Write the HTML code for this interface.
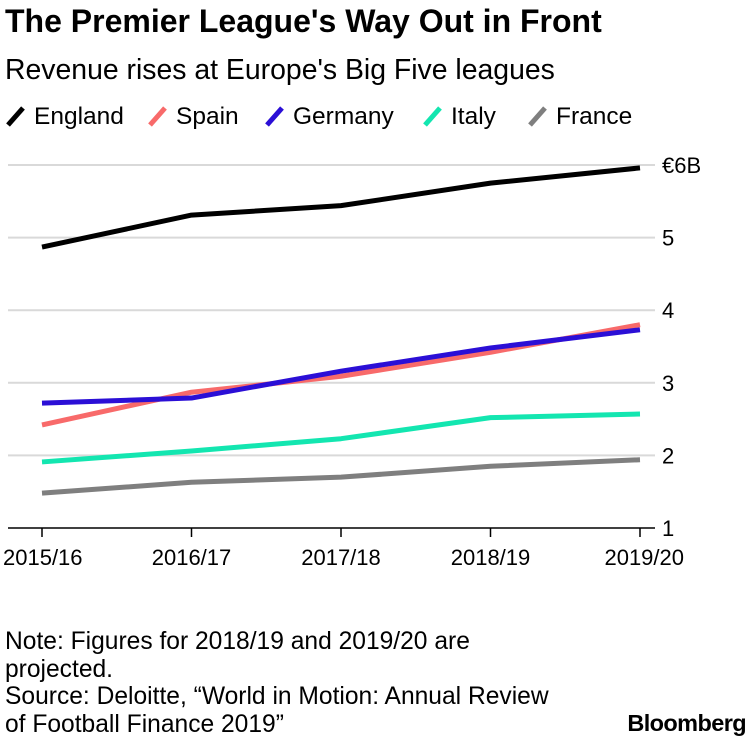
<!DOCTYPE html>
<html><head><meta charset="utf-8"><style>
body{margin:0;background:#fff;font-family:"Liberation Sans",sans-serif;}
#wrap{position:relative;width:750px;height:740px;overflow:hidden;}
.t{position:absolute;left:5px;color:#000;white-space:nowrap;}
</style></head><body>
<div id="wrap">
<div class="t" style="top:3px;font-size:32px;font-weight:bold;">The Premier League's Way Out in Front</div>
<div class="t" style="top:54px;font-size:28.4px;">Revenue rises at Europe's Big Five leagues</div>
<svg id="chart" width="750" height="600" style="position:absolute;left:0;top:0"></svg>
<div class="t" style="top:628px;font-size:24.6px;line-height:27.5px;">Note: Figures for 2018/19 and 2019/20 are<br>projected.<br>Source: Deloitte, “World in Motion: Annual Review<br>of Football Finance 2019”</div>
<div style="position:absolute;right:4px;top:710px;font-size:23.5px;font-weight:bold;letter-spacing:-0.6px;">Bloomberg</div>
</div>
<script>
const categories=["2015/16","2016/17","2017/18","2018/19","2019/20"];
const england=[4.87,5.31,5.44,5.75,5.96];
const spain=[2.42,2.87,3.09,3.42,3.80];
const germany=[2.72,2.79,3.16,3.48,3.73];
const italy=[1.91,2.06,2.23,2.52,2.57];
const france=[1.48,1.63,1.70,1.85,1.94];
const yTicks=[1,2,3,4,5,6];
const yTickLabels=["1","2","3","4","5","€6B"];
const seriesNames=["England","Spain","Germany","Italy","France"];
const NS="http://www.w3.org/2000/svg";
const svg=document.getElementById('chart');
const colors=["#000000","#f86a6a","#2b0fd6","#13e6b0","#7f7f7f"];
const seriesData=[england,spain,germany,italy,france];
const x=i=>42+i*149.5;
const y=v=>528-(v-1)*72.6;
function mk(tag,attrs){const e=document.createElementNS(NS,tag);for(const k in attrs)e.setAttribute(k,attrs[k]);svg.appendChild(e);return e;}
yTicks.forEach((v,i)=>{
  if(v>1){const g=mk('line',{x1:8,x2:655,y1:y(v),y2:y(v),stroke:'#d9d9d9','stroke-width':2});
  
  }
  const t=mk('text',{x:662,y:y(v)+8,'font-size':22,'font-family':'Liberation Sans, sans-serif'});
  t.textContent=yTickLabels[i];
  
  
});
const ax=mk('line',{x1:8,x2:655,y1:528,y2:528,stroke:'#000','stroke-width':1.5});


categories.forEach((c,i)=>{
  const tk=mk('line',{x1:x(i),x2:x(i),y1:528,y2:537,stroke:'#000','stroke-width':1.5});
  
  
  const anchor=i==0?'start':(i==categories.length-1?'end':'middle');
  const xx=i==0?3:(i==categories.length-1?684:x(i));
  const t=mk('text',{x:xx,y:565,'font-size':22,'text-anchor':anchor,'font-family':'Liberation Sans, sans-serif'});
  t.textContent=c;
  
  
});
seriesData.forEach((d,s)=>{
  const p=mk('polyline',{points:d.map((v,i)=>x(i)+','+y(v)).join(' '),fill:'none',stroke:colors[s],'stroke-width':5,'stroke-linejoin':'round'});
  
  
});
const legX=[8,150,267,425,530];
seriesNames.forEach((n,s)=>{
  const l=mk('line',{x1:legX[s],y1:125,x2:legX[s]+15,y2:108,stroke:colors[s],'stroke-width':5});
  
  
  const t=mk('text',{x:legX[s]+26,y:124,'font-size':24.5,'font-family':'Liberation Sans, sans-serif'});
  t.textContent=n;
  
  
});
</script>
</body></html>
